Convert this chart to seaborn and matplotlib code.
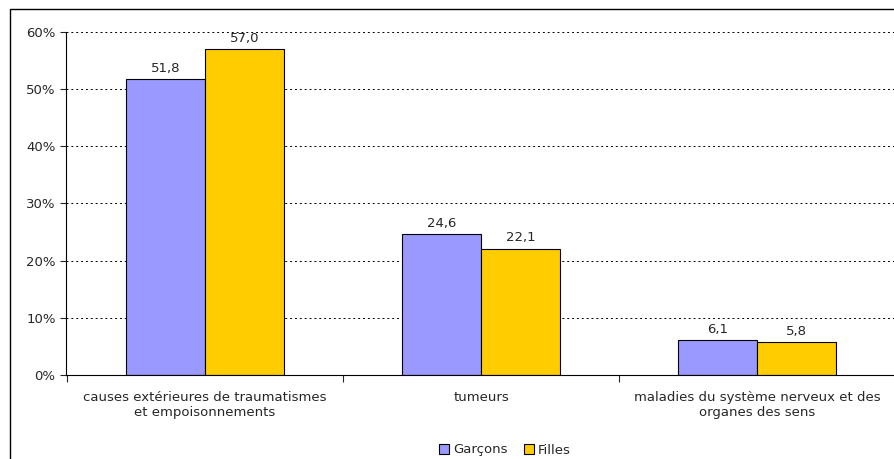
import matplotlib
matplotlib.use('Agg')
import matplotlib.pyplot as plt
import seaborn as sns
import pandas as pd
from matplotlib.patches import Rectangle, Patch
from matplotlib.ticker import FixedLocator

categories = ["causes extérieures de traumatismes\net empoisonnements", "tumeurs",
              "maladies du système nerveux et des\norganes des sens"]
garcons = [51.8, 24.6, 6.1]
filles = [57.0, 22.1, 5.8]
series = ["Garçons", "Filles"]
colors = ["#9999ff", "#ffcc00"]

df = pd.DataFrame({
    "cat": categories * 2,
    "val": garcons + filles,
    "serie": [series[0]] * 3 + [series[1]] * 3,
})

sns.set_style("white")
plt.rcParams['font.family'] = ['DejaVu Sans']
fig = plt.figure(figsize=(8.94, 4.59), dpi=100)
ax = fig.add_axes([66/894, 84/459, 829/894, 343/459])
sns.barplot(data=df, x="cat", y="val", hue="serie", palette=colors, width=0.572,
            edgecolor="black", linewidth=0.8, saturation=1, ax=ax, legend=False)

for cont in ax.containers:
    ax.bar_label(cont, labels=[f"{v:.1f}".replace(".", ",") for v in cont.datavalues],
                 padding=3, fontsize=9.5)

ax.set_ylim(0, 60)
ax.set_xlim(-0.504, 2.5)
ax.set_yticks(range(0, 61, 10))
ax.set_yticklabels([f"{v}%" for v in range(0, 61, 10)], fontsize=9.5)
ax.yaxis.grid(True, linestyle=(0, (2, 3)), color="black", linewidth=0.7)
ax.set_axisbelow(True)
ax.tick_params(axis="y", left=True, length=4, width=0.8)
ax.tick_params(axis="x", bottom=False, labelsize=9.5, pad=8)
ax.xaxis.set_minor_locator(FixedLocator([-0.5, 0.5, 1.5, 2.5]))
ax.tick_params(axis="x", which="minor", bottom=True, length=5, width=0.8)
ax.set_xlabel("")
ax.set_ylabel("")
for s in ["top", "right"]:
    ax.spines[s].set_visible(False)
for s in ["left", "bottom"]:
    ax.spines[s].set_color("black")
    ax.spines[s].set_linewidth(0.8)

handles = [Patch(facecolor=c, edgecolor="black", linewidth=0.8) for c in colors]
fig.legend(handles, series, loc="center", bbox_to_anchor=(505/894, 1 - 450/459), ncol=2,
           frameon=False, fontsize=9.5, handlelength=0.8, handleheight=0.8,
           handletextpad=0.3, columnspacing=1.2)

fig.patches.append(Rectangle((10/894, -0.05), 1.0, 1.05 - 9/459, transform=fig.transFigure,
                             fill=False, edgecolor="black", linewidth=1))
fig.savefig("out.png", dpi=100)
